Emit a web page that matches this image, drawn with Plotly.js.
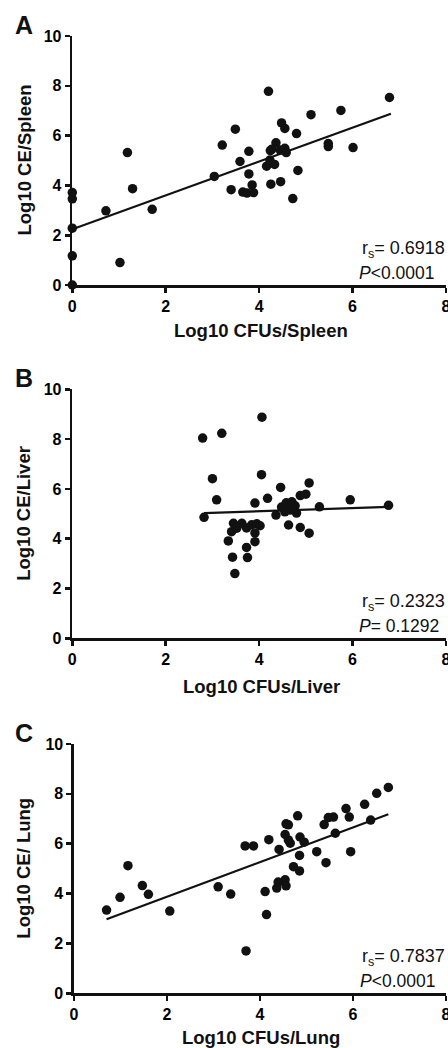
<!DOCTYPE html>
<html><head><meta charset="utf-8">
<script src="https://cdn.plot.ly/plotly-3.0.1.min.js"></script>
<style>html,body{margin:0;padding:0;background:#fff}#chart{width:448px;height:1048px}</style>
</head><body><div id="chart"></div>
<script>
// Panel A: spleen
const spleenX = [0,0,0,0,0,0.72,1.02,1.18,1.29,1.71,3.04,3.21,3.40,3.49,3.59,3.65,3.74,3.78,3.78,3.85,3.88,4.20,4.16,4.23,4.24,4.25,4.33,4.36,4.27,4.45,4.46,4.48,4.55,4.55,4.58,4.72,4.80,4.83,5.11,5.48,5.48,5.75,6.01,6.79];
const spleenY = [3.71,3.46,2.28,1.17,0,2.98,0.90,5.32,3.87,3.04,4.36,5.62,3.83,6.26,4.96,3.73,3.69,5.37,4.46,4.02,3.71,7.78,4.77,5.02,5.40,4.05,4.84,5.71,5.45,5.42,4.15,6.51,6.29,5.49,5.32,3.47,6.08,4.60,6.84,5.68,5.56,7.01,5.52,7.53];
// Panel B: liver
const liverX = [2.79,3.20,4.06,3.00,4.05,3.09,2.82,3.91,4.18,4.46,5.07,4.88,5.00,5.29,5.95,6.77,4.36,4.48,4.58,4.66,4.77,4.80,4.55,4.70,4.63,4.88,5.07,3.45,3.52,3.63,3.73,3.84,3.95,4.02,3.41,3.91,3.34,3.73,3.91,3.43,3.75,3.48];
const liverY = [8.04,8.23,8.88,6.41,6.57,5.56,4.86,5.43,5.62,6.06,6.24,5.73,5.79,5.28,5.56,5.34,4.95,5.27,5.44,5.15,5.32,5.03,5.08,5.48,4.55,4.45,4.22,4.62,4.42,4.62,4.43,4.56,4.60,4.52,4.28,4.23,3.91,3.65,3.88,3.26,3.24,2.60];
// Panel C: lung
const lungX = [0.70,0.99,1.16,1.47,1.60,2.06,3.10,3.37,3.70,3.68,3.86,4.11,4.14,4.19,4.41,4.36,4.39,4.54,4.56,4.56,4.61,4.54,4.61,4.65,4.81,4.72,4.85,4.85,4.86,4.95,5.22,5.42,5.38,5.47,5.58,5.62,5.85,5.92,5.95,6.25,6.38,6.51,6.76];
const lungY = [3.34,3.85,5.12,4.32,3.97,3.30,4.27,3.98,1.70,5.91,5.91,4.08,3.16,6.16,5.77,4.22,4.46,4.55,4.31,6.80,6.76,6.37,6.15,6.02,7.12,5.08,5.53,4.91,6.27,6.06,5.68,5.24,6.77,7.05,7.07,6.42,7.41,7.07,5.68,7.58,6.95,8.02,8.26];

// Fitted lines: [intercept, slope], x-extent
const fitA = [2.24, 0.68], fitAx = [0, 6.82];
const fitB = [4.85, 0.063], fitBx = [2.82, 6.77];
const fitC = [2.48, 0.696], fitCx = [0.70, 6.76];

const xTickVals = [0, 2, 4, 6, 8];
const yTickVals = [0, 2, 4, 6, 8, 10];
const xTitles = ["Log10 CFUs/Spleen", "Log10 CFUs/Liver", "Log10 CFUs/Lung"];
const yTitles = ["Log10 CE/Spleen", "Log10 CE/Liver", "Log10 CE/ Lung"];
const panelLetters = ["A", "B", "C"];
const rsTexts = ["r<sub>s</sub>= 0.6918", "r<sub>s</sub>= 0.2323", "r<sub>s</sub>= 0.7837"];
const pTexts = ["<i>P</i>&lt;0.0001", "<i>P</i>= 0.1292", "<i>P</i>&lt;0.0001"];

const FONT = "Arial, 'Liberation Sans', Helvetica, sans-serif";
const W = 448, H = 1048;
// pixel boxes [left, right, top, bottom]
const boxes = [[72.3, 446, 36, 285], [72.3, 446, 389.3, 638.3], [74, 446, 744, 993.3]];
const xTitleY = [330, 686, 1037];

const datasets = [[spleenX, spleenY, fitA, fitAx], [liverX, liverY, fitB, fitBx], [lungX, lungY, fitC, fitCx]];
const traces = [];
const layout = {
  width: W, height: H, margin: {l: 0, r: 0, t: 0, b: 0},
  paper_bgcolor: "#fff", plot_bgcolor: "#fff", showlegend: false,
  font: {family: FONT, color: "#111"},
  annotations: []
};
const bold = v => "<b>" + v + "</b>";

datasets.forEach((d, i) => {
  const n = i === 0 ? "" : String(i + 1);
  const xa = "x" + n, ya = "y" + n;
  const [l, r, t, b] = boxes[i];
  traces.push({
    x: d[0], y: d[1], xaxis: xa, yaxis: ya, type: "scatter", mode: "markers",
    cliponaxis: false,
    marker: {color: "#111", size: 9.5, symbol: "circle", line: {width: 0}}
  });
  const fx = d[3];
  traces.push({
    x: fx, y: fx.map(v => d[2][0] + d[2][1] * v), xaxis: xa, yaxis: ya,
    type: "scatter", mode: "lines", cliponaxis: false,
    line: {color: "#111", width: 2.2}
  });
  const axCommon = {
    showgrid: false, zeroline: false, showline: true, linecolor: "#111", linewidth: 2.6,
    ticks: "outside", ticklen: 5, tickwidth: 2.6, tickcolor: "#111",
    tickfont: {family: FONT, size: 16, color: "#000", weight: "bold"},
    fixedrange: true, tickmode: "array", ticklabeloverflow: "allow"
  };
  layout["xaxis" + n] = Object.assign({}, axCommon, {
    domain: [l / W, r / W], range: [0, 8], tickvals: xTickVals, ticktext: xTickVals.map(bold), anchor: ya
  });
  layout["yaxis" + n] = Object.assign({}, axCommon, {
    domain: [1 - b / H, 1 - t / H], range: [0, 10], tickvals: yTickVals, ticktext: yTickVals.map(bold), anchor: xa
  });
  // axis titles
  layout.annotations.push({
    xref: "paper", yref: "paper", x: 261 / W, y: 1 - xTitleY[i] / H,
    xanchor: "center", yanchor: "middle", showarrow: false, text: bold(xTitles[i]),
    font: {family: FONT, size: 18.5, color: "#111"}
  });
  layout.annotations.push({
    xref: "paper", yref: "paper", x: 24 / W, y: 1 - (t + b) / 2 / H,
    xanchor: "center", yanchor: "middle", showarrow: false, text: bold(yTitles[i]), textangle: -90,
    font: {family: FONT, size: 18.5, color: "#111"}
  });
  // panel letters
  layout.annotations.push({
    xref: "paper", yref: "paper", x: 24 / W, y: 1 - (t - 11) / H,
    xanchor: "center", yanchor: "middle", showarrow: false, text: bold(panelLetters[i]),
    font: {family: FONT, size: 25, color: "#111"}
  });
  // stats text
  layout.annotations.push({
    xref: xa, yref: ya, x: 6.16, y: 1.42, xanchor: "left", yanchor: "middle",
    showarrow: false, text: rsTexts[i], font: {family: FONT, size: 18, color: "#111"}
  });
  layout.annotations.push({
    xref: xa, yref: ya, x: 6.1, y: 0.48, xanchor: "left", yanchor: "middle",
    showarrow: false, text: pTexts[i], font: {family: FONT, size: 17.5, color: "#111"}
  });
});

Plotly.newPlot("chart", traces, layout, {staticPlot: true, displayModeBar: false});
</script></body></html>
